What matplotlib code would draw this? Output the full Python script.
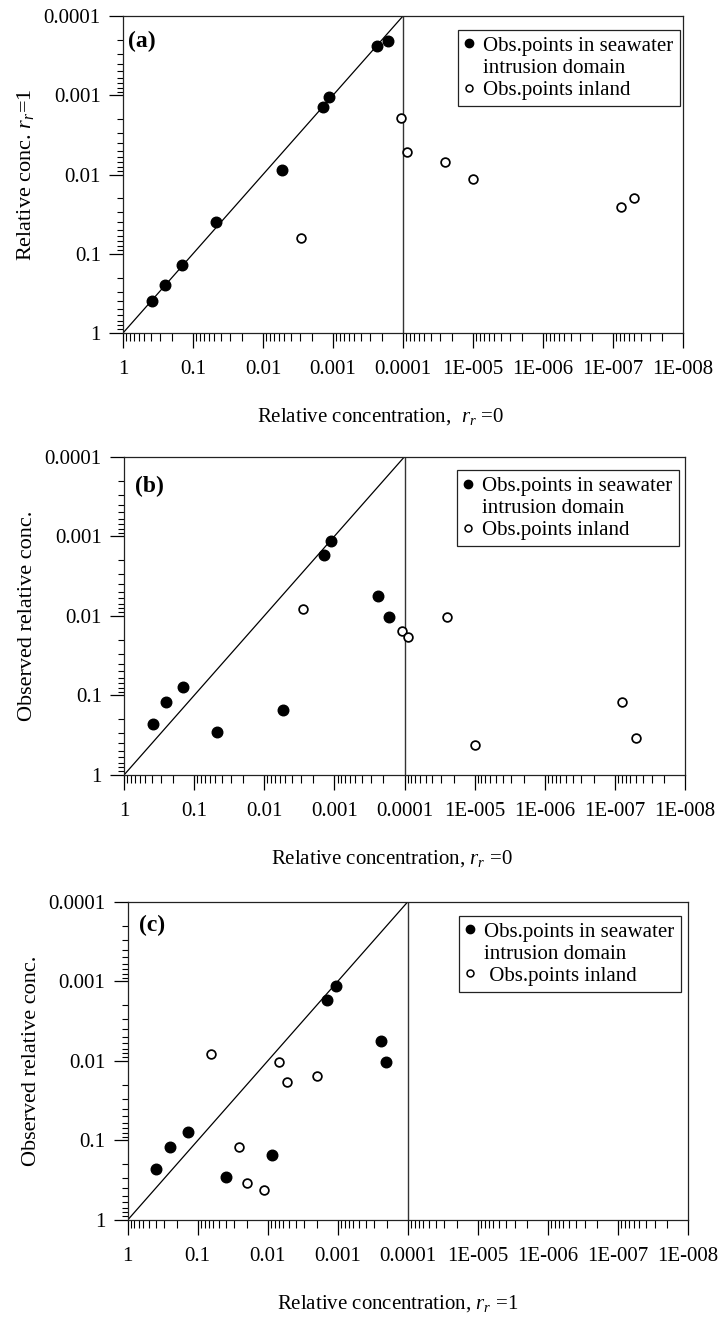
import matplotlib
matplotlib.use('Agg')
import matplotlib.pyplot as plt
from matplotlib.lines import Line2D
from matplotlib.ticker import LogLocator, FixedLocator, FixedFormatter, NullFormatter

# Data: sea-water intrusion domain points (filled) and inland points (open)
sea_rr0 = [0.39, 0.255, 0.144, 0.047, 0.0054, 0.0014, 0.00113, 0.000236, 0.000165]
sea_rr1 = [0.39, 0.25, 0.139, 0.040, 0.0088, 0.00142, 0.00105, 0.00024, 0.000204]
sea_obs = [0.229, 0.12, 0.078, 0.29, 0.154, 0.0017, 0.00116, 0.0057, 0.0103]

inland_rr0 = [0.00284, 0.000107, 8.8e-5, 2.5e-5, 1.0e-5, 7.8e-8, 5.0e-8]
inland_rr1 = [0.0638, 0.00195, 0.00525, 0.0070, 0.0114, 0.026, 0.0196]
inland_obs = [0.0083, 0.0156, 0.0182, 0.0102, 0.42, 0.122, 0.34]

x_ticks = [1, 0.1, 0.01, 0.001, 0.0001, 1e-5, 1e-6, 1e-7, 1e-8]
x_tick_labels = ["1", "0.1", "0.01", "0.001", "0.0001", "1E-005", "1E-006", "1E-007", "1E-008"]
y_ticks = [1, 0.1, 0.01, 0.001, 0.0001]
y_tick_labels = ["1", "0.1", "0.01", "0.001", "0.0001"]

panel_letters = ["(a)", "(b)", "(c)"]
y_labels = ["Relative conc. $r_r$=1", "Observed relative conc.", "Observed relative conc."]
x_labels = ["Relative concentration,  $r_r$ =0", "Relative concentration, $r_r$ =0",
            "Relative concentration, $r_r$ =1"]
legend_sea = ["Obs.points in seawater", "intrusion domain"]
legend_inland = ["Obs.points inland", "Obs.points inland", " Obs.points inland"]

plt.rcParams['font.family'] = ['Liberation Serif', 'DejaVu Serif']
plt.rcParams['font.size'] = 15
plt.rcParams['mathtext.fontset'] = 'custom'
plt.rcParams['mathtext.rm'] = 'Liberation Serif'
plt.rcParams['mathtext.it'] = 'Liberation Serif:italic'

W, H = 718, 1320
fig = plt.figure(figsize=(W / 100, H / 100), dpi=100)

# axes boxes in pixels: left, right, top, bottom
boxes = [(123, 683, 16, 333), (124, 685, 456.7, 775), (127.7, 688, 901.7, 1220)]
letter_pos = [(0.009, 0.92), (0.019, 0.905), (0.020, 0.925)]
legend_anchor = [(0.994, 0.956), (0.989, 0.958), (0.987, 0.956)]
xlabel_x = [0.459, 0.478, 0.482]

pairs = [
    (sea_rr0, sea_rr1, inland_rr0, inland_rr1),
    (sea_rr0, sea_obs, inland_rr0, inland_obs),
    (sea_rr1, sea_obs, inland_rr1, inland_obs),
]

for i, (l, r, t, b) in enumerate(boxes):
    ax = fig.add_axes([l / W, (H - b) / H, (r - l) / W, (b - t) / H])
    ax.set_xscale('log')
    ax.set_yscale('log')
    ax.set_xlim(1, 1e-8)
    ax.set_ylim(1, 1e-4)

    sx, sy, ix, iy = pairs[i]
    ax.plot([1, 1e-4], [1, 1e-4], color='black', lw=0.9, zorder=2)
    ax.axvline(1e-4, color='#333333', lw=1.0, zorder=2)
    ax.plot(sx, sy, linestyle='none', marker='o', markersize=7.6,
            markerfacecolor='black', markeredgecolor='black', zorder=3)
    ax.plot(ix, iy, linestyle='none', marker='o', markersize=6.3,
            markerfacecolor='white', markeredgecolor='black', markeredgewidth=1.25, zorder=3)

    ax.xaxis.set_major_locator(FixedLocator(x_ticks))
    ax.xaxis.set_major_formatter(FixedFormatter(x_tick_labels))
    ax.xaxis.set_minor_locator(LogLocator(base=10, subs=range(2, 10), numticks=50))
    ax.xaxis.set_minor_formatter(NullFormatter())
    ax.yaxis.set_major_locator(FixedLocator(y_ticks))
    ax.yaxis.set_major_formatter(FixedFormatter(y_tick_labels))
    ax.yaxis.set_minor_locator(LogLocator(base=10, subs=range(2, 10), numticks=50))
    ax.yaxis.set_minor_formatter(NullFormatter())

    ax.tick_params(axis='x', which='major', direction='out', length=11, width=0.9, pad=8.5,
                   labelsize=15)
    ax.tick_params(axis='x', which='minor', direction='out', length=5.5, width=0.8)
    ax.tick_params(axis='y', which='major', direction='out', length=10, width=0.9, pad=6,
                   labelsize=15)
    ax.tick_params(axis='y', which='minor', direction='out', length=4, width=0.8)
    for s in ax.spines.values():
        s.set_linewidth(0.9)
        s.set_color('#222222')

    ax.set_xlabel(x_labels[i], fontsize=15)
    ax.xaxis.set_label_coords(xlabel_x[i], -73 / (b - t))
    ax.set_ylabel(y_labels[i], fontsize=16)
    ax.yaxis.set_label_coords(-0.155, 0.5)

    ax.text(letter_pos[i][0], letter_pos[i][1], panel_letters[i], transform=ax.transAxes,
            fontsize=17, fontweight='bold', ha='left', va='center')

    handles = [
        Line2D([], [], linestyle='none', marker='o', markersize=6, markerfacecolor='black',
               markeredgecolor='black'),
        Line2D([], [], linestyle='none', marker=None),
        Line2D([], [], linestyle='none', marker='o', markersize=5, markerfacecolor='white',
               markeredgecolor='black', markeredgewidth=1.1),
    ]
    labels = [legend_sea[0], legend_sea[1], legend_inland[i]]
    leg = ax.legend(handles, labels, loc='upper right', bbox_to_anchor=legend_anchor[i],
                    borderaxespad=0, fancybox=False, frameon=True, fontsize=15,
                    handlelength=0.45, handletextpad=0.45, borderpad=0.3, labelspacing=0.12,
                    framealpha=1)
    leg.get_frame().set_edgecolor('#222222')
    leg.get_frame().set_linewidth(0.9)

fig.savefig('out.png', dpi=100)
